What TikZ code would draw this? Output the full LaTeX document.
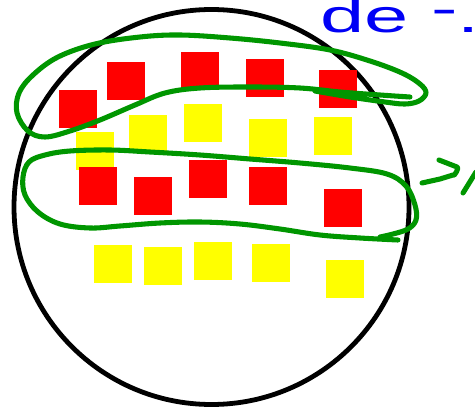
\documentclass[tikz,border=0pt]{standalone}
\usepackage{fontspec}
\setmainfont{Liberation Sans}
\definecolor{pred}{RGB}{255,0,0}
\definecolor{pyel}{RGB}{255,255,0}
\definecolor{pgreen}{RGB}{0,150,0}
\definecolor{pblue}{RGB}{0,0,245}
\tikzset{
  sq/.style={draw=none, minimum width=28.5pt, minimum height=28.5pt, inner sep=0pt, anchor=north west},
  redsq/.style={sq, fill=pred},
  yelsq/.style={sq, fill=pyel},
  greenpen/.style={draw=pgreen, line width=3.8pt, line cap=round, line join=round},
  blackpen/.style={draw=black, line width=3.6pt}
}
\begin{document}
\begin{tikzpicture}[x=0.75pt, y=-0.75pt]
\useasboundingbox (0,0) rectangle (475,410);
% big circle
\node[blackpen, circle, minimum size=395*0.75pt, inner sep=0pt] (ring) at (211.5,207) {};
% yellow row 1
\node[yelsq] (y11) at (76,132) {};
\node[yelsq] (y12) at (129,115) {};
\node[yelsq] (y13) at (184,104) {};
\node[yelsq] (y14) at (249,119) {};
\node[yelsq] (y15) at (314,117) {};
% red top row
\node[redsq] (r11) at (59,90) {};
\node[redsq] (r12) at (107,62) {};
\node[redsq] (r13) at (181,52) {};
\node[redsq] (r14) at (246,59) {};
\node[redsq] (r15) at (319,70) {};
% red row 2
\node[redsq] (r21) at (79,167) {};
\node[redsq] (r22) at (134,177) {};
\node[redsq] (r23) at (189,160) {};
\node[redsq] (r24) at (249,167) {};
\node[redsq] (r25) at (324,189) {};
% yellow row 2
\node[yelsq] (y21) at (94,245) {};
\node[yelsq] (y22) at (144,247) {};
\node[yelsq] (y23) at (194,242) {};
\node[yelsq] (y24) at (252,244) {};
\node[yelsq] (y25) at (326,260) {};
% green loop 1
\draw[greenpen] plot[smooth, tension=0.6] coordinates {
 (410,97) (380,95) (340,92) (300,88) (250,87) (200,88) (165,93) (135,105)
 (100,120) (70,131) (45,137) (28,131) (17,113) (19,93) (33,75) (58,57)
 (95,44) (140,37) (180,35) (230,38) (280,43) (330,50) (370,61) (402,73)
 (420,84) (426,93) (419,101) (405,104) (385,102) (350,97) (315,91)};
% green loop 2
\draw[greenpen] plot[smooth, tension=0.6] coordinates {
 (398,240) (360,238) (320,235) (280,229) (240,224) (200,222) (160,223)
 (120,226) (90,228) (60,224) (38,212) (25,195) (23,177) (29,162) (45,155)
 (70,151) (110,150) (150,152) (200,155) (250,159) (300,163) (350,168)
 (387,174) (406,186) (415,205) (416,220) (408,229) (393,234) (380,237)};
% green arrow
\draw[greenpen] (422,183) -- (440,179) -- (453,175) to[out=-80,in=20] (457,167) -- (439,160);
\draw[greenpen] (463,193) -- (476,172);
% blue text
\node[anchor=base west, inner sep=0pt, xscale=1.7, text=pblue, font=\fontsize{35}{35}\selectfont] (txt) at (320,33) {de\hspace{10pt}\raisebox{6pt}{-}\hspace{0pt}.};
\end{tikzpicture}
\end{document}
